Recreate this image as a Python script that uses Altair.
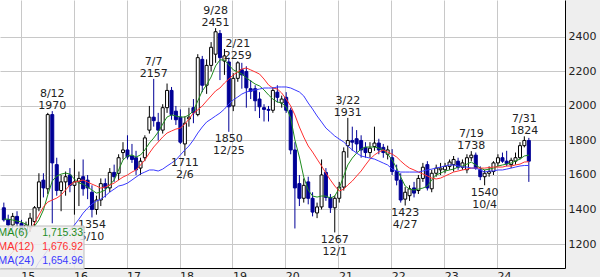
import altair as alt
import pandas as pd

# ---------------- data (monthly candles, Sep 2014 .. Aug 2024) ----------------
start_year, start_month = 2014, 9

opens = [1410, 1340, 1310, 1360,
         1320, 1280, 1300, 1330, 1410, 1570, 1520, 1950, 1660, 1510, 1560, 1600,
         1540, 1560, 1590, 1570, 1500, 1400, 1455, 1550, 1525, 1615, 1610, 1730,
         1745, 1710, 1700, 1640, 1700, 1860, 1935, 1905, 1860, 1990, 2090, 1970,
         1935, 1780, 1925, 1990, 1950, 2270, 2120, 2235, 2300, 2420, 2260, 2255,
         2000, 2160, 2210, 2200, 2100, 2100, 2040, 1990, 1980, 1975, 2080, 2017,
         2050, 1975, 1745, 1550, 1465, 1560, 1465, 1380, 1415, 1615, 1470, 1410,
         1465, 1530, 1770, 1800, 1810, 1800, 1760, 1730, 1765, 1785, 1760, 1720,
         1700, 1620, 1570, 1460, 1480, 1525, 1510, 1580, 1660, 1520, 1610, 1630,
         1630, 1650, 1660, 1680, 1645, 1630, 1700, 1715, 1630, 1590, 1610, 1620,
         1670, 1700, 1680, 1660, 1680, 1700, 1770, 1800]
highs = [1440, 1370, 1380, 1390,
         1340, 1330, 1380, 1420, 1610, 1610, 1960, 1970, 1700, 1600, 1620, 1640,
         1690, 1620, 1690, 1600, 1540, 1480, 1580, 1580, 1640, 1660, 1720, 1790,
         1830, 1780, 1740, 1700, 1830, 2000, 2157, 1960, 2010, 2130, 2110, 2000,
         1980, 1940, 1990, 2040, 2300, 2290, 2270, 2370, 2451, 2440, 2330, 2280,
         2190, 2259, 2250, 2230, 2150, 2120, 2080, 2010, 2000, 2110, 2120, 2060,
         2080, 1990, 1790, 1600, 1580, 1590, 1500, 1440, 1690, 1640, 1490, 1480,
         1560, 1760, 1931, 1880, 1860, 1830, 1790, 1790, 1880, 1810, 1780, 1770,
         1750, 1660, 1610, 1530, 1540, 1560, 1600, 1670, 1680, 1630, 1660, 1670,
         1670, 1690, 1710, 1700, 1690, 1720, 1738, 1730, 1650, 1630, 1650, 1680,
         1720, 1730, 1740, 1700, 1730, 1790, 1824, 1815]
lows = [1330, 1250, 1290, 1300,
        1240, 1260, 1270, 1300, 1390, 1470, 1490, 1320, 1480, 1390, 1480, 1500,
        1370, 1420, 1480, 1460, 1354, 1370, 1420, 1470, 1500, 1560, 1570, 1690,
        1690, 1670, 1600, 1600, 1680, 1840, 1880, 1800, 1840, 1960, 1920, 1890,
        1780, 1711, 1880, 1900, 1940, 2080, 2070, 2200, 2250, 2150, 2180, 1850,
        1970, 2140, 2100, 1990, 2040, 1970, 1930, 1910, 1910, 1960, 2020, 1990,
        1960, 1720, 1290, 1420, 1440, 1430, 1360, 1350, 1400, 1450, 1380, 1267,
        1440, 1510, 1700, 1740, 1730, 1700, 1700, 1700, 1740, 1720, 1700, 1690,
        1600, 1540, 1440, 1423, 1450, 1470, 1490, 1560, 1510, 1500, 1590, 1600,
        1610, 1630, 1620, 1630, 1630, 1610, 1680, 1630, 1570, 1540, 1590, 1600,
        1650, 1670, 1650, 1640, 1660, 1690, 1760, 1560]
closes = [1340, 1310, 1360, 1320,
          1280, 1310, 1350, 1410, 1560, 1525, 1950, 1670, 1510, 1560, 1590, 1540,
          1560, 1580, 1520, 1525, 1400, 1455, 1550, 1525, 1615, 1590, 1700, 1745,
          1705, 1690, 1630, 1680, 1815, 1935, 1915, 1860, 1990, 2090, 1950, 1920,
          1790, 1900, 1935, 1960, 2280, 2120, 2235, 2340, 2430, 2280, 2290, 1995,
          2160, 2250, 2180, 2105, 2085, 2030, 1995, 1980, 1975, 2090, 2050, 2040,
          1975, 1745, 1525, 1465, 1540, 1465, 1385, 1415, 1600, 1470, 1410, 1465,
          1530, 1735, 1800, 1790, 1780, 1745, 1730, 1755, 1785, 1745, 1730, 1745,
          1620, 1570, 1455, 1500, 1520, 1495, 1580, 1645, 1525, 1610, 1640, 1640,
          1650, 1675, 1690, 1645, 1670, 1700, 1715, 1640, 1590, 1610, 1620, 1670,
          1700, 1680, 1665, 1685, 1700, 1770, 1800, 1680]

ma6 = [1344, 1344, 1339, 1333,
       1327, 1315, 1298, 1304, 1339, 1397, 1484, 1565, 1594, 1605, 1611, 1605,
       1576, 1553, 1547, 1530, 1513, 1495, 1501, 1513, 1542, 1571, 1629, 1687,
       1710, 1716, 1704, 1716, 1745, 1785, 1814, 1849, 1895, 1936, 1948, 1942,
       1936, 1936, 1948, 1971, 2029, 2087, 2122, 2168, 2232, 2267, 2267, 2238,
       2209, 2197, 2185, 2162, 2145, 2127, 2116, 2093, 2064, 2040, 2023, 2017,
       1994, 1930, 1803, 1704, 1588, 1513, 1478, 1472, 1478, 1478, 1466, 1478,
       1524, 1594, 1658, 1698, 1727, 1750, 1762, 1762, 1762, 1756, 1745, 1721,
       1687, 1640, 1588, 1536, 1518, 1513, 1518, 1524, 1536, 1571, 1600, 1611,
       1623, 1629, 1634, 1646, 1652, 1663, 1675, 1658, 1640, 1629, 1634, 1640,
       1652, 1658, 1663, 1669, 1681, 1692, 1710, 1715.33]
ma12 = [1089, 1124, 1153, 1188,
        1217, 1246, 1281, 1321, 1368, 1414, 1443, 1455, 1466, 1484, 1513, 1542,
        1559, 1565, 1571, 1559, 1547, 1536, 1524, 1530, 1542, 1553, 1571, 1588,
        1600, 1617, 1629, 1658, 1687, 1727, 1762, 1791, 1820, 1843, 1855, 1866,
        1872, 1895, 1924, 1959, 1977, 2000, 2029, 2058, 2087, 2104, 2133, 2156,
        2180, 2197, 2214, 2220, 2209, 2197, 2185, 2156, 2122, 2104, 2098, 2075,
        2040, 2000, 1948, 1878, 1820, 1768, 1733, 1692, 1652, 1611, 1571, 1536,
        1507, 1518, 1542, 1565, 1594, 1623, 1658, 1692, 1716, 1733, 1745, 1733,
        1721, 1704, 1681, 1658, 1640, 1629, 1617, 1606, 1594, 1582, 1577, 1582,
        1594, 1606, 1617, 1623, 1629, 1634, 1640, 1640, 1640, 1640, 1643, 1646,
        1646, 1646, 1652, 1652, 1658, 1663, 1675, 1676.92]
ma24 = [None, None, None, None,
        None, None, None, 1050, 1095, 1130, 1165, 1188, 1211, 1228, 1252, 1281,
        1310, 1344, 1379, 1408, 1431, 1449, 1460, 1478, 1501, 1518, 1536, 1542,
        1553, 1571, 1588, 1606, 1617, 1629, 1629, 1623, 1634, 1652, 1669, 1687,
        1716, 1745, 1768, 1803, 1843, 1878, 1907, 1924, 1942, 1959, 1982, 2011,
        2035, 2052, 2069, 2081, 2087, 2093, 2098, 2104, 2104, 2104, 2110, 2110,
        2110, 2104, 2093, 2081, 2058, 2017, 1982, 1942, 1907, 1872, 1849, 1826,
        1808, 1791, 1768, 1745, 1727, 1710, 1704, 1698, 1692, 1681, 1669, 1658,
        1634, 1623, 1617, 1617, 1617, 1617, 1617, 1623, 1629, 1634, 1640, 1646,
        1652, 1658, 1658, 1652, 1646, 1646, 1640, 1640, 1629, 1617, 1623, 1623,
        1629, 1629, 1634, 1640, 1646, 1652, 1655, 1654.96]

# annotated highs / lows
high_months = ["2015-08", "2017-07", "2018-09", "2019-02", "2021-03", "2023-07", "2024-07"]
high_prices = [1970, 2157, 2451, 2259, 1931, 1738, 1824]
high_dates = ["8/12", "7/7", "9/28", "2/21", "3/22", "7/19", "7/31"]
low_months = ["2016-05", "2018-02", "2018-12", "2020-12", "2022-04", "2023-10"]
low_prices = [1354, 1711, 1850, 1267, 1423, 1540]
low_dates = ["5/10", "2/6", "12/25", "12/1", "4/27", "10/4"]

legend_names = ["MA(6)", "MA(12)", "MA(24)"]
legend_values = ["1,715.33", "1,676.92", "1,654.96"]
ma_colors = ["#1e8c1e", "#ff3030", "#3a3aff"]

y_ticks = [1200, 1400, 1600, 1800, 2000, 2200, 2400]
year_ticks = list(range(2015, 2025))

# ---------------- frames ----------------
dates = []
for i in range(len(opens)):
    m0 = start_month - 1 + i
    dates.append(f"{start_year + m0 // 12:04d}-{m0 % 12 + 1:02d}-07")

df = pd.DataFrame({"date": dates, "open": opens, "high": highs,
                   "low": lows, "close": closes})
df["dir"] = ["up" if c >= o else "down" for o, c in zip(opens, closes)]
up_df = df[df["dir"] == "up"]
dn_df = df[df["dir"] == "down"]

hi_df = pd.DataFrame({"date": [m + "-07" for m in high_months],
                      "price": high_prices, "label": high_dates,
                      "ptxt": [str(p) for p in high_prices]})
lo_df = pd.DataFrame({"date": [m + "-07" for m in low_months],
                      "price": low_prices, "label": low_dates,
                      "ptxt": [str(p) for p in low_prices]})

# ---------------- scales ----------------
FONT = "DejaVu Sans"
x_scale = alt.Scale(type="utc",
                    domain=[alt.DateTime(year=2014, month=9, date=15, utc=True),
                            alt.DateTime(year=2025, month=3, date=10, utc=True)])
y_scale = alt.Scale(domain=[1061, 2614], nice=False, zero=False)

x_axis = alt.Axis(orient="bottom", title=None, format="%y",
                  values=[alt.DateTime(year=y, month=1, date=1, utc=True) for y in year_ticks],
                  grid=True, gridColor="#c8c8c8", gridWidth=1,
                  ticks=False, domain=True, domainColor="#000000", domainWidth=1,
                  labelAlign="left", labelPadding=2, labelBaseline="top",
                  labelFont=FONT, labelFontSize=11, labelColor="#222222",
                  labelFlush=False, labelOverlap=False)
y_axis = alt.Axis(orient="right", title=None, values=y_ticks, format="d",
                  grid=True, gridColor="#c8c8c8", gridWidth=1,
                  ticks=False, domain=True, domainColor="#000000", domainWidth=1,
                  labelPadding=3, labelFont=FONT, labelFontSize=11,
                  labelColor="#222222", labelFlush=False, labelOverlap=False)


def X(axis=None):
    return alt.X("date:T", scale=x_scale, axis=axis)


def Y(field, axis=None):
    return alt.Y(field, scale=y_scale, axis=axis)


UP, DOWN = "#000000", "#000096"

# axis-bearing layer (grid + labels)
axis_layer = alt.Chart(df).mark_rule(opacity=0).encode(
    x=X(x_axis), y=Y("low:Q", y_axis))

layers = [axis_layer]
for part, col, fillc in [(up_df, UP, "#ffffff"), (dn_df, DOWN, DOWN)]:
    layers.append(alt.Chart(part).mark_rule(strokeWidth=1, clip=True, color=col).encode(
        x=X(), y=Y("low:Q"), y2="high:Q"))
    layers.append(alt.Chart(part).mark_bar(size=3, strokeWidth=1, clip=True,
                                           fill=fillc, stroke=col).encode(
        x=X(), y=Y("open:Q"), y2="close:Q"))

for name, series, col in zip(legend_names, [ma6, ma12, ma24], ma_colors):
    mdf = pd.DataFrame({"date": dates, "value": series}).dropna()
    layers.append(alt.Chart(mdf).mark_line(strokeWidth=1, clip=True, color=col).encode(
        x=X(), y=Y("value:Q")))

txt = dict(font=FONT, fontSize=11, color="#222222", align="center", baseline="alphabetic")
layers += [
    alt.Chart(hi_df).mark_text(dy=-2, **txt).encode(x=X(), y=Y("price:Q"), text="ptxt:N"),
    alt.Chart(hi_df).mark_text(dy=-14, **txt).encode(x=X(), y=Y("price:Q"), text="label:N"),
    alt.Chart(lo_df).mark_text(dy=10.5, **txt).encode(x=X(), y=Y("price:Q"), text="ptxt:N"),
    alt.Chart(lo_df).mark_text(dy=22.5, **txt).encode(x=X(), y=Y("price:Q"), text="label:N"),
]

# legend box (lower-left)
box_df = pd.DataFrame({"k": [0]})
layers.append(alt.Chart(box_df).mark_rect(
    fill="#efefef", fillOpacity=0.85, stroke="#bdbdbd", strokeWidth=1
).encode(x=alt.value(-1), x2=alt.value(84), y=alt.value(226), y2=alt.value(269)))

LFONT = "Liberation Sans"
row_y = [233, 247, 261]
for name, val, col, yy in zip(legend_names, legend_values, ma_colors, row_y):
    ldf = pd.DataFrame({"name": [name], "val": [val]})
    layers.append(
        alt.Chart(ldf).mark_text(font=LFONT, fontSize=11, color=col, align="left",
                                 baseline="middle")
        .encode(x=alt.value(-2), y=alt.value(yy), text="name:N"))
    layers.append(
        alt.Chart(ldf).mark_text(font=LFONT, fontSize=10.5, color=col, align="right",
                                 baseline="middle")
        .encode(x=alt.value(83), y=alt.value(yy), text="val:N"))

chart = alt.layer(*layers).resolve_axis(
    x="independent", y="independent"
).properties(
    width=565, height=268,
    padding={"left": 0, "top": 0, "right": 35, "bottom": 9},
    autosize=alt.AutoSizeParams(type="none"),
).configure(
    background="#eeeeee",
).configure_view(
    fill="#ffffff", stroke=None,
)

chart.save("out.html", embed_options={"renderer": "svg", "actions": False})
